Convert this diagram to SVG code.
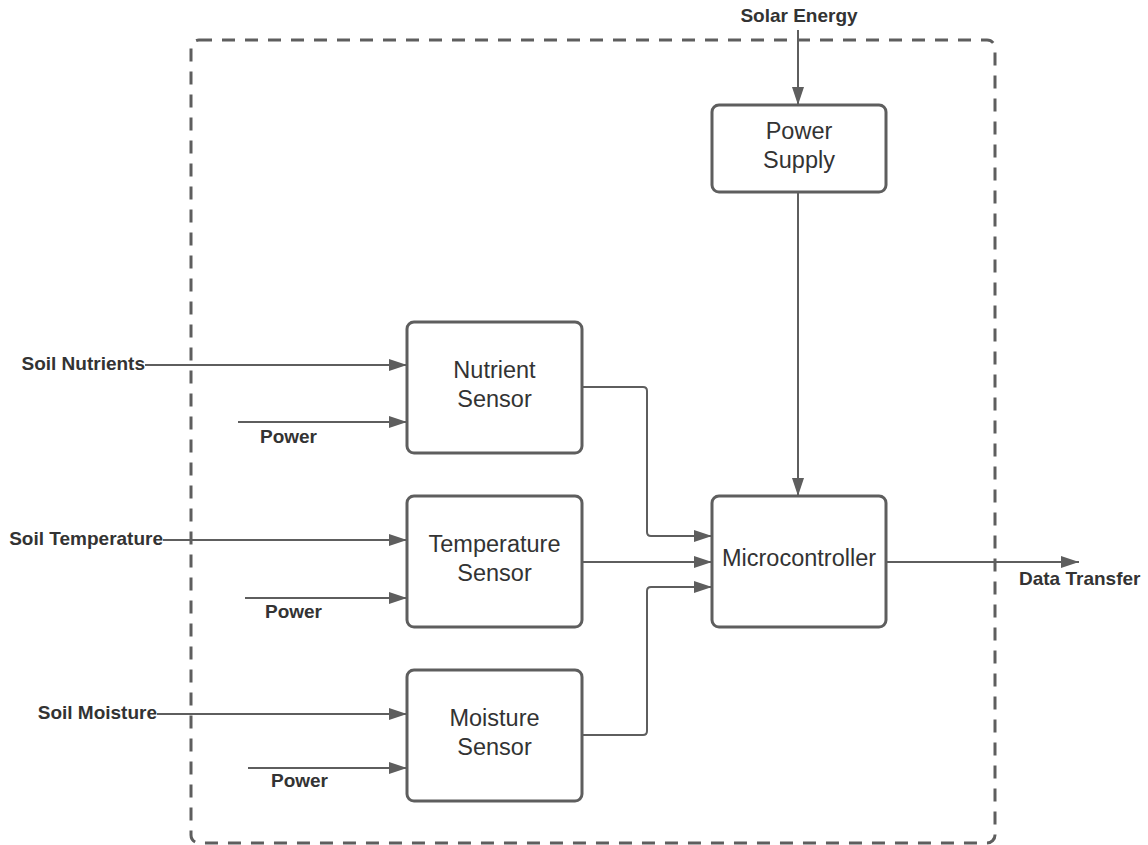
<svg xmlns="http://www.w3.org/2000/svg" width="1148" height="845" viewBox="0 0 1148 845">
<style>
.box{fill:#fff;stroke:#5e5e5e;stroke-width:3}
.lbl{font-family:"Liberation Sans",Arial,sans-serif;font-size:23.5px;fill:#333;text-anchor:middle}
.el{font-family:"Liberation Sans",Arial,sans-serif;font-size:19px;font-weight:bold;fill:#333}
.c{fill:none;stroke:#5e5e5e;stroke-width:2}
</style>
<defs>
<marker id="ah" markerUnits="userSpaceOnUse" markerWidth="18" markerHeight="12" refX="18" refY="6" orient="auto">
<path d="M0,0 L18,6 L0,12 Z" fill="#5e5e5e"/>
</marker>
</defs>
<rect id="boundary" x="191" y="40" width="804" height="803" rx="8" fill="none" stroke="#5e5e5e" stroke-width="3" stroke-dasharray="13 10"/>
<g id="connectors">
<path class="c" d="M798,30 V105" marker-end="url(#ah)"/>
<path class="c" d="M798,192 V496" marker-end="url(#ah)"/>
<path class="c" d="M145,365 H407" marker-end="url(#ah)"/>
<path class="c" d="M238,422 H407" marker-end="url(#ah)"/>
<path class="c" d="M163,540 H407" marker-end="url(#ah)"/>
<path class="c" d="M245,598 H407" marker-end="url(#ah)"/>
<path class="c" d="M157,714 H407" marker-end="url(#ah)"/>
<path class="c" d="M248,768 H407" marker-end="url(#ah)"/>
<path class="c" d="M582,387 H643 Q647,387 647,391 V532 Q647,536 651,536 H712" marker-end="url(#ah)"/>
<path class="c" d="M582,562 H712" marker-end="url(#ah)"/>
<path class="c" d="M582,735 H643 Q647,735 647,731 V591 Q647,587 651,587 H712" marker-end="url(#ah)"/>
<path class="c" d="M886,562 H1079" marker-end="url(#ah)"/>
</g>
<g id="edge-labels">
<text class="el" x="799" y="22" text-anchor="middle">Solar Energy</text>
<text class="el" x="145" y="370" text-anchor="end">Soil Nutrients</text>
<text class="el" x="260" y="443">Power</text>
<text class="el" x="163" y="545" text-anchor="end">Soil Temperature</text>
<text class="el" x="265" y="618">Power</text>
<text class="el" x="157" y="719" text-anchor="end">Soil Moisture</text>
<text class="el" x="271" y="787">Power</text>
<text class="el" x="1019" y="585">Data Transfer</text>
</g>
<g id="power-supply">
<rect class="box" x="712" y="105" width="174" height="87" rx="7"/>
<text class="lbl" x="799" y="139">Power</text>
<text class="lbl" x="799" y="168">Supply</text>
</g>
<g id="microcontroller">
<rect class="box" x="712" y="496" width="174" height="131" rx="7"/>
<text class="lbl" x="799" y="566">Microcontroller</text>
</g>
<g id="nutrient-sensor">
<rect class="box" x="407" y="322" width="175" height="131" rx="7"/>
<text class="lbl" x="494.5" y="378">Nutrient</text>
<text class="lbl" x="494.5" y="407">Sensor</text>
</g>
<g id="temperature-sensor">
<rect class="box" x="407" y="496" width="175" height="131" rx="7"/>
<text class="lbl" x="494.5" y="552">Temperature</text>
<text class="lbl" x="494.5" y="581">Sensor</text>
</g>
<g id="moisture-sensor">
<rect class="box" x="407" y="670" width="175" height="131" rx="7"/>
<text class="lbl" x="494.5" y="726">Moisture</text>
<text class="lbl" x="494.5" y="755">Sensor</text>
</g>
</svg>
